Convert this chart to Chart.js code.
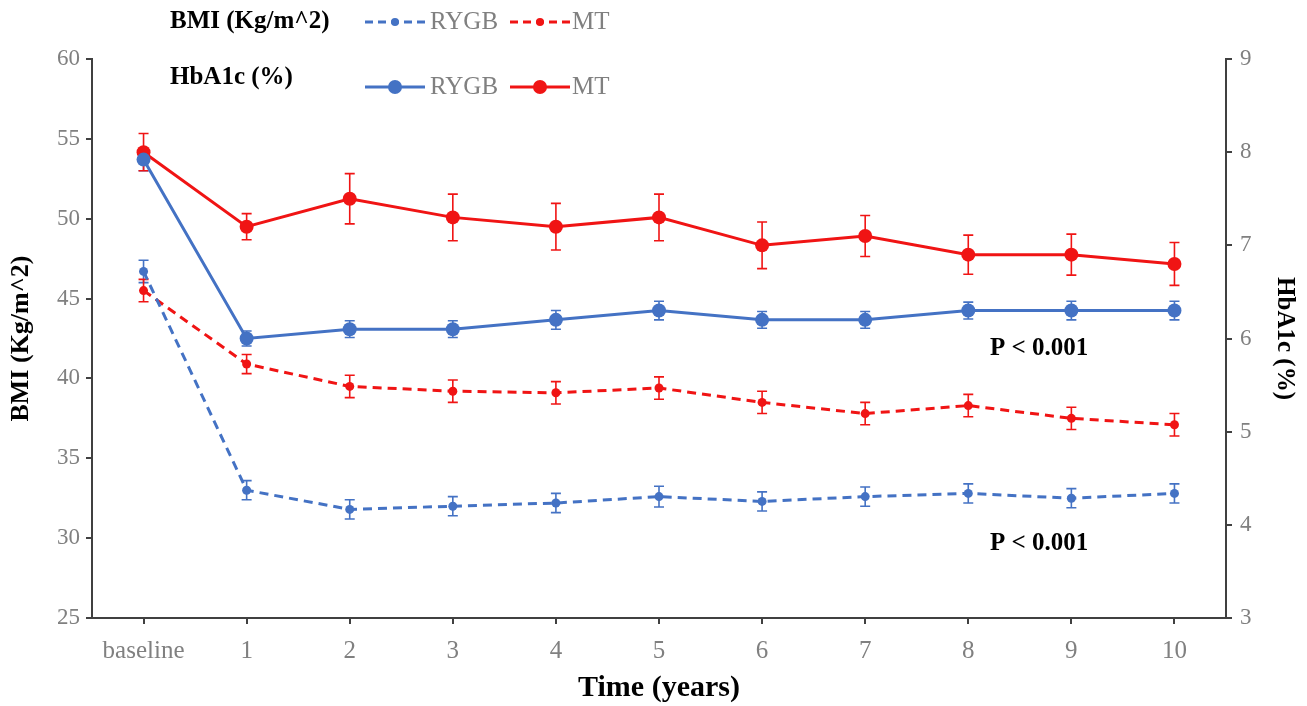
<!DOCTYPE html>
<html>
<head>
<meta charset="utf-8">
<script src="https://cdn.jsdelivr.net/npm/chart.js@4.4.0/dist/chart.umd.min.js"></script>
<style>
  body { margin: 0; background: #fff; }
  #wrap { width: 1307px; height: 706px; }
</style>
</head>
<body>
<div id="wrap"><canvas id="chart" width="1307" height="706"></canvas></div>
<script>
// x categories
var labels = ['baseline', '1', '2', '3', '4', '5', '6', '7', '8', '9', '10'];

// BMI (left axis)
var bmiRygb = [46.7, 33.0, 31.8, 32.0, 32.2, 32.6, 32.3, 32.6, 32.8, 32.5, 32.8];
var bmiRygbErr = [0.7, 0.6, 0.6, 0.6, 0.6, 0.65, 0.6, 0.6, 0.6, 0.6, 0.6];
var bmiMt = [45.5, 40.9, 39.5, 39.2, 39.1, 39.4, 38.5, 37.8, 38.3, 37.5, 37.1];
var bmiMtErr = [0.7, 0.6, 0.7, 0.7, 0.7, 0.7, 0.7, 0.7, 0.7, 0.7, 0.7];

// HbA1c (right axis)
var hbRygb = [7.92, 6.0, 6.1, 6.1, 6.2, 6.3, 6.2, 6.2, 6.3, 6.3, 6.3];
var hbRygbErr = [0.12, 0.08, 0.09, 0.09, 0.1, 0.1, 0.09, 0.09, 0.09, 0.1, 0.1];
var hbMt = [8.0, 7.2, 7.5, 7.3, 7.2, 7.3, 7.0, 7.1, 6.9, 6.9, 6.8];
var hbMtErr = [0.2, 0.14, 0.27, 0.25, 0.25, 0.25, 0.25, 0.22, 0.21, 0.22, 0.23];

var blue = '#4472c4';
var red = '#f01414';
var serif = '"Liberation Serif", "DejaVu Serif", serif';

var errBars = {
    id: 'errBars',
    beforeDatasetsDraw: function(chart) {
        var ctx = chart.ctx;
        chart.data.datasets.forEach(function(ds, i) {
            if (!ds.errors) return;
            var meta = chart.getDatasetMeta(i);
            var scale = chart.scales[ds.yAxisID];
            ctx.save();
            ctx.strokeStyle = ds.borderColor;
            ctx.lineWidth = 1.6;
            meta.data.forEach(function(pt, j) {
                var top = scale.getPixelForValue(ds.data[j] + ds.errors[j]);
                var bot = scale.getPixelForValue(ds.data[j] - ds.errors[j]);
                ctx.beginPath();
                ctx.moveTo(pt.x, top); ctx.lineTo(pt.x, bot);
                ctx.moveTo(pt.x - 5, top); ctx.lineTo(pt.x + 5, top);
                ctx.moveTo(pt.x - 5, bot); ctx.lineTo(pt.x + 5, bot);
                ctx.stroke();
            });
            ctx.restore();
        });
    }
};

// legend rows + p-value notes
var extras = {
    id: 'extras',
    afterDraw: function(chart) {
        var ctx = chart.ctx;
        ctx.save();
        ctx.textBaseline = 'middle';
        ctx.fillStyle = '#000';
        ctx.font = 'bold 25px ' + serif;
        ctx.fillText('BMI (Kg/m^2)', 170, 22);
        ctx.fillText('HbA1c (%)', 170, 78);
        ctx.font = 'bold 25px ' + serif;
        ctx.fillText('P < 0.001', 990, 349);
        ctx.fillText('P < 0.001', 990, 544);

        function sample(x, y, color, dashed) {
            ctx.strokeStyle = color;
            ctx.fillStyle = color;
            ctx.lineWidth = 3;
            ctx.setLineDash(dashed ? [8, 5] : []);
            ctx.beginPath(); ctx.moveTo(x, y); ctx.lineTo(x + 60, y); ctx.stroke();
            ctx.setLineDash([]);
            ctx.beginPath(); ctx.arc(x + 30, y, dashed ? 4 : 7, 0, Math.PI * 2); ctx.fill();
        }
        sample(365, 22, blue, true);
        sample(510, 22, red, true);
        sample(365, 87, blue, false);
        sample(510, 87, red, false);
        ctx.font = '25px ' + serif;
        ctx.fillStyle = '#808080';
        ctx.fillText('RYGB', 430, 22);
        ctx.fillText('MT', 572, 22);
        ctx.fillText('RYGB', 430, 87);
        ctx.fillText('MT', 572, 87);
        ctx.restore();
    }
};

var ctx = document.getElementById('chart').getContext('2d');
var myChart = new Chart(ctx, {
    type: 'line',
    data: {
        labels: labels,
        datasets: [{
            label: 'BMI RYGB', data: bmiRygb, errors: bmiRygbErr, yAxisID: 'y',
            borderColor: blue, backgroundColor: blue, borderWidth: 3, borderDash: [9, 6],
            pointRadius: 4.5, pointBorderWidth: 0
        }, {
            label: 'BMI MT', data: bmiMt, errors: bmiMtErr, yAxisID: 'y',
            borderColor: red, backgroundColor: red, borderWidth: 3, borderDash: [9, 6],
            pointRadius: 4.5, pointBorderWidth: 0
        }, {
            label: 'HbA1c RYGB', data: hbRygb, errors: hbRygbErr, yAxisID: 'y1',
            borderColor: blue, backgroundColor: blue, borderWidth: 3,
            pointRadius: 7, pointBorderWidth: 0
        }, {
            label: 'HbA1c MT', data: hbMt, errors: hbMtErr, yAxisID: 'y1',
            borderColor: red, backgroundColor: red, borderWidth: 3,
            pointRadius: 7, pointBorderWidth: 0
        }]
    },
    options: {
        responsive: false,
        animation: false,
        layout: { padding: { top: 59, left: 0, right: 0, bottom: 0 } },
        plugins: { legend: { display: false }, tooltip: { enabled: false } },
        scales: {
            x: {
                offset: true,
                grid: { drawOnChartArea: false, tickLength: 6, color: '#404040', lineWidth: 2 },
                border: { color: '#404040', width: 2 },
                ticks: { color: '#808080', font: { family: serif, size: 25 }, padding: 12 },
                title: { display: true, text: 'Time (years)', color: '#000',
                    font: { family: serif, size: 30, weight: 'bold' }, padding: { top: 0, bottom: 0 } },
                afterFit: function(s) { s.height = 88; }
            },
            y: {
                position: 'left', min: 25, max: 60,
                ticks: { stepSize: 5, color: '#808080', font: { family: serif, size: 23 }, padding: 6 },
                grid: { drawOnChartArea: false, tickLength: 6, color: '#404040', lineWidth: 2 },
                border: { color: '#404040', width: 2 },
                title: { display: true, text: 'BMI (Kg/m^2)', color: '#000',
                    font: { family: serif, size: 26, weight: 'bold' }, padding: { top: 6, bottom: 0 } },
                afterFit: function(s) { s.width = 92; }
            },
            y1: {
                position: 'right', min: 3, max: 9,
                ticks: { stepSize: 1, color: '#808080', font: { family: serif, size: 23 }, padding: 8 },
                grid: { drawOnChartArea: false, tickLength: 6, color: '#404040', lineWidth: 2 },
                border: { color: '#404040', width: 2 },
                title: { display: true, text: 'HbA1c (%)', color: '#000',
                    font: { family: serif, size: 25, weight: 'bold' }, padding: { top: 8, bottom: 0 } },
                afterFit: function(s) { s.width = 81; }
            }
        }
    },
    plugins: [errBars, extras]
});
</script>
</body>
</html>
